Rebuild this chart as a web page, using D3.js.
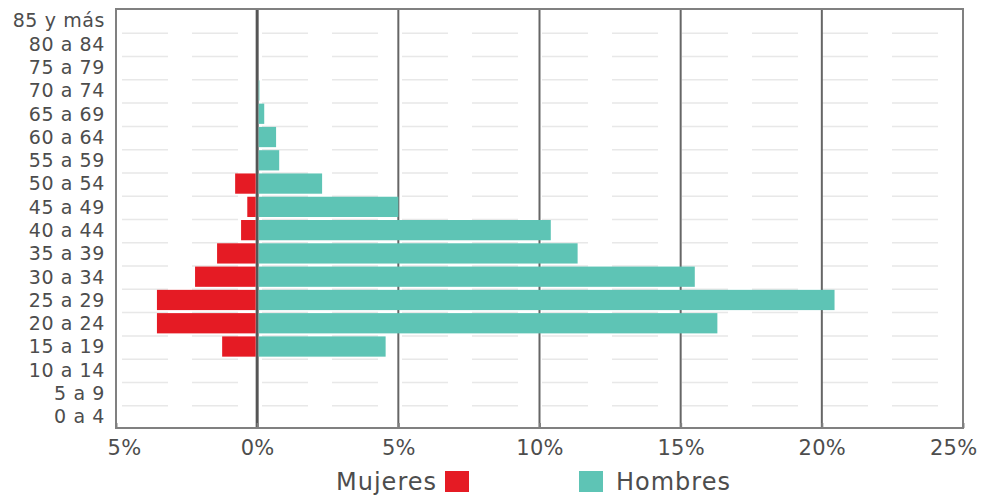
<!DOCTYPE html>
<html>
<head>
<meta charset="utf-8">
<script src="https://cdn.jsdelivr.net/npm/d3@7"></script>
<style>
  html, body { margin: 0; padding: 0; background: #fff; }
  svg text { font-family: "DejaVu Sans", "Open Sans", sans-serif; fill: #4d4d4d; }
</style>
</head>
<body>
<svg id="chart" width="984" height="502"></svg>
<script>
// Age groups, oldest at the top
const ageGroups = ["85 y más", "80 a 84", "75 a 79", "70 a 74", "65 a 69", "60 a 64",
  "55 a 59", "50 a 54", "45 a 49", "40 a 44", "35 a 39", "30 a 34",
  "25 a 29", "20 a 24", "15 a 19", "10 a 14", "5 a 9", "0 a 4"];
// Share of population (%) per age group
const mujeres = [0, 0, 0, 0, 0, 0, 0, 0.78, 0.35, 0.57, 1.42, 2.2, 3.55, 3.55, 1.24, 0, 0, 0];
const hombres = [0, 0, 0.05, 0.08, 0.25, 0.67, 0.78, 2.3, 5.0, 10.4, 11.35, 15.5, 20.45, 16.3, 4.55, 0, 0, 0];
const xTicks = [-5, 0, 5, 10, 15, 20, 25];
const legendItems = ["Mujeres", "Hombres"];

const colorMujeres = "#e51b24";
const colorHombres = "#5ec4b5";

const svg = d3.select("#chart");
const margin = { left: 116, right: 21, top: 9, bottom: 74 };
const W = 984, H = 502;

const x = d3.scaleLinear().domain([-5, 25]).range([margin.left, W - margin.right]);
const y = d3.scaleBand().domain(ageGroups).range([margin.top, H - margin.bottom]).paddingInner(0.13).paddingOuter(0.065);
const yRow = d3.scaleBand().domain(ageGroups).range([margin.top, H - margin.bottom]);

// faint dashed row separators
svg.append("g").selectAll("line")
  .data(ageGroups.slice(1))
  .join("line")
  .attr("x1", x(-5) + 6).attr("x2", x(25) - 4)
  .attr("y1", d => yRow(d) + 1).attr("y2", d => yRow(d) + 1)
  .attr("stroke", "#e8e8e8").attr("stroke-width", 1.5)
  .attr("stroke-dasharray", "46,24");

// vertical grid lines
svg.append("g").selectAll("line")
  .data(xTicks.filter(t => t > -5 && t < 25))
  .join("line")
  .attr("x1", d => x(d)).attr("x2", d => x(d))
  .attr("y1", margin.top).attr("y2", H - margin.bottom)
  .attr("stroke", d => d === 0 ? "#555" : "#666")
  .attr("stroke-width", d => d === 0 ? 3 : 2);

// women bars extend left of zero
svg.append("g").selectAll("rect")
  .data(ageGroups.map((g, i) => ({ g, v: mujeres[i] })).filter(d => d.v > 0))
  .join("rect")
  .attr("x", d => x(-d.v)).attr("width", d => x(0) - 1.5 - x(-d.v))
  .attr("y", d => y(d.g)).attr("height", y.bandwidth())
  .attr("fill", colorMujeres);

// men bars extend right of zero
svg.append("g").selectAll("rect")
  .data(ageGroups.map((g, i) => ({ g, v: hombres[i] })).filter(d => d.v > 0))
  .join("rect")
  .attr("x", x(0) + 1.5).attr("width", d => Math.max(0, x(d.v) - x(0) - 1.5))
  .attr("y", d => y(d.g)).attr("height", y.bandwidth())
  .attr("fill", colorHombres);

// frame
svg.append("rect")
  .attr("x", x(-5)).attr("y", margin.top)
  .attr("width", x(25) - x(-5)).attr("height", H - margin.bottom - margin.top)
  .attr("fill", "none").attr("stroke", "#808080").attr("stroke-width", 2);

// x axis; percentages shown unsigned on both sides of zero
const xAxis = d3.axisBottom(x).tickValues(xTicks).tickSize(-5).tickFormat(d => Math.abs(d) + "%");
const gx = svg.append("g").attr("transform", `translate(0,${H - margin.bottom})`).call(xAxis);
gx.select(".domain").remove();
gx.selectAll(".tick line").attr("stroke", "#808080").attr("stroke-width", 2);
gx.selectAll(".tick text").attr("y", 19).attr("dy", "0.36em")
  .style("font-size", "21px").style("letter-spacing", "0.3px").attr("fill", "#4d4d4d");
// keep the outermost labels inside the page
gx.selectAll(".tick text").filter(d => d === xTicks[0])
  .attr("text-anchor", "start").attr("x", -9);
gx.selectAll(".tick text").filter(d => d === xTicks[xTicks.length - 1])
  .attr("text-anchor", "end").attr("x", 14);

// y axis labels
const yAxis = d3.axisLeft(yRow).tickSize(0).tickPadding(11);
const gy = svg.append("g").attr("transform", `translate(${margin.left},0)`).call(yAxis);
gy.select(".domain").remove();
gy.selectAll(".tick text").style("font-size", "19px").style("letter-spacing", "0.6px")
  .attr("fill", "#4d4d4d").attr("dy", "0.36em");

// legend
const lg = svg.append("g").attr("transform", "translate(0,481)");
lg.append("text").attr("x", 437).attr("y", 0).attr("dy", "0.36em")
  .attr("text-anchor", "end").style("font-size", "24px").style("letter-spacing", "1px").text(legendItems[0]);
lg.append("rect").attr("x", 445).attr("y", -10).attr("width", 24).attr("height", 21).attr("fill", colorMujeres);
lg.append("rect").attr("x", 579).attr("y", -10).attr("width", 24).attr("height", 21).attr("fill", colorHombres);
lg.append("text").attr("x", 616).attr("y", 0).attr("dy", "0.36em")
  .style("font-size", "24px").style("letter-spacing", "1px").text(legendItems[1]);
</script>
</body>
</html>
